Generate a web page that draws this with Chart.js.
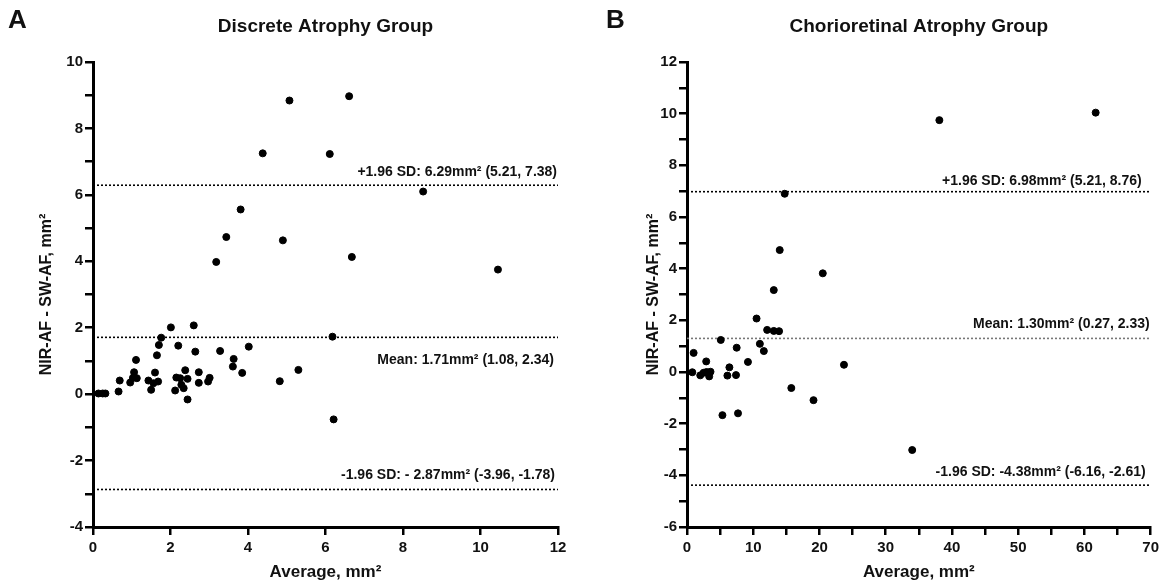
<!DOCTYPE html>
<html>
<head>
<meta charset="utf-8">
<script src="https://cdn.jsdelivr.net/npm/chart.js@4.4.0/dist/chart.umd.min.js"></script>
<style>
  body { margin: 0; background: #fff; }
  #wrap { position: relative; width: 1163px; height: 584px; }
  canvas { position: absolute; top: 0; }
</style>
</head>
<body>
<div id="wrap">
  <canvas id="chartA" width="580" height="584" style="left:0"></canvas>
  <canvas id="chartB" width="583" height="584" style="left:580px"></canvas>
</div>
<script>
"use strict";

// panel A - discrete atrophy group (average vs difference)
const avgA = [5.07, 6.61, 4.38, 6.11, 8.52, 3.81, 3.44, 4.90, 3.18, 6.68, 10.45,
  2.01, 2.60, 6.18, 1.76, 1.70, 2.20, 4.02, 3.28, 2.64, 1.65, 1.11, 3.63, 3.61,
  5.30, 1.06, 1.60, 2.38, 2.73, 3.85, 1.03, 1.13, 0.69, 0.96, 1.43, 1.56, 1.68,
  2.15, 2.25, 2.44, 2.73, 3.01, 2.97, 4.82, 2.28, 2.34, 1.50, 2.12, 0.66, 2.44,
  6.21, 0.14, 0.25, 0.32];
const diffA = [8.84, 8.97, 7.25, 7.23, 6.10, 5.56, 4.73, 4.63, 3.98, 4.13, 3.75,
  2.01, 2.07, 1.73, 1.70, 1.48, 1.46, 1.43, 1.30, 1.28, 1.17, 1.03, 1.06, 0.83,
  0.73, 0.66, 0.65, 0.72, 0.66, 0.64, 0.49, 0.48, 0.41, 0.35, 0.41, 0.33, 0.38,
  0.50, 0.48, 0.46, 0.34, 0.49, 0.38, 0.39, 0.28, 0.18, 0.13, 0.11, 0.08, -0.16,
  -0.76, 0.02, 0.02, 0.02];
const limitsA = [6.29, 1.71, -2.87];
const notesA = ["+1.96 SD: 6.29mm² (5.21, 7.38)", "Mean: 1.71mm² (1.08, 2.34)", "-1.96 SD: - 2.87mm² (-3.96, -1.78)"];

// panel B - chorioretinal atrophy group
const avgB = [38.1, 61.7, 14.75, 14.0, 20.5, 13.1, 10.5, 12.1, 13.1, 13.9, 5.1,
  11.0, 7.5, 11.6, 1.0, 2.9, 9.2, 23.7, 6.4, 0.8, 2.0, 2.5, 2.95, 3.35, 3.55,
  6.1, 7.4, 15.75, 19.1, 5.35, 7.7, 34.0];
const diffB = [9.75, 10.04, 6.90, 4.72, 3.82, 3.17, 2.07, 1.63, 1.59, 1.58, 1.24,
  1.09, 0.94, 0.81, 0.74, 0.41, 0.39, 0.28, 0.18, -0.01, -0.13, -0.03, 0.0, -0.17,
  0.01, -0.14, -0.12, -0.62, -1.09, -1.67, -1.60, -3.02];
const limitsB = [6.98, 1.30, -4.38];
const notesB = ["+1.96 SD: 6.98mm² (5.21, 8.76)", "Mean: 1.30mm² (0.27, 2.33)", "-1.96 SD: -4.38mm² (-6.16, -2.61)"];

const FONT = "'Liberation Sans', Arial, Helvetica, sans-serif";
Chart.defaults.font.family = FONT;
Chart.defaults.font.weight = "bold";
Chart.defaults.color = "#111";

// draws panel letter, group title and the labels over the limit lines
const panelText = {
  id: "panelText",
  afterDraw(chart, args, opts) {
    const ctx = chart.ctx;
    const area = chart.chartArea;
    const y = chart.scales.y;
    ctx.save();
    ctx.fillStyle = "#111";
    ctx.textBaseline = "middle";
    ctx.font = "bold 26px " + FONT;
    ctx.textAlign = "left";
    ctx.fillText(opts.letter, opts.letterX, 21);
    ctx.font = "bold 19px " + FONT;
    ctx.textAlign = "center";
    ctx.fillText(opts.title, (area.left + area.right) / 2, 27);
    ctx.font = "bold 14px " + FONT;
    ctx.textAlign = "right";
    for (let i = 0; i < opts.notes.length; i++) {
      const py = y.getPixelForValue(opts.limits[i]) + opts.noteDy[i];
      ctx.fillText(opts.notes[i], area.right + opts.noteDx[i], py);
    }
    ctx.restore();
  }
};

function makeChart(id, p) {
  const points = [];
  for (let i = 0; i < p.xs.length; i++) {
    points.push({ x: p.xs[i], y: p.ys[i] });
  }
  const datasets = [{
    type: "scatter",
    data: points,
    backgroundColor: "#000",
    borderColor: "#000",
    pointRadius: 3.5,
    pointHoverRadius: 3.5
  }];
  for (let i = 0; i < p.limits.length; i++) {
    datasets.push({
      type: "line",
      data: [{ x: p.xMin, y: p.limits[i] }, { x: p.xMax, y: p.limits[i] }],
      showLine: true,
      borderColor: p.lineColors[i],
      borderWidth: 1.6,
      borderDash: [2, 2],
      pointRadius: 0,
      fill: false
    });
  }

  const tickGrid = {
    drawOnChartArea: false,
    drawTicks: true,
    tickLength: 8,
    color: "#000",
    lineWidth: 2.5
  };

  return new Chart(document.getElementById(id), {
    type: "scatter",
    data: { datasets: datasets },
    options: {
      responsive: false,
      animation: false,
      events: [],
      layout: { padding: { left: 0, right: p.padRight, top: 62, bottom: 0 } },
      plugins: {
        legend: { display: false },
        tooltip: { enabled: false },
        panelText: {
          letter: p.letter,
          letterX: p.letterX,
          title: p.title,
          notes: p.notes,
          limits: p.limits,
          noteDy: p.noteDy,
          noteDx: p.noteDx
        }
      },
      scales: {
        x: {
          type: "linear",
          min: p.xMin,
          max: p.xMax,
          border: { display: true, color: "#000", width: 3 },
          grid: tickGrid,
          ticks: {
            stepSize: p.xStep,
            autoSkip: false,
            maxTicksLimit: 100,
            maxRotation: 0,
            padding: 4,
            font: { size: 15, weight: "bold" },
            color: "#111",
            callback: (v) => (v % p.xLabelEvery === 0 ? v : "")
          },
          title: {
            display: true,
            text: "Average, mm²",
            font: { size: 17, weight: "bold", lineHeight: 1 },
            color: "#111",
            padding: { top: 0, bottom: 3 }
          },
          afterFit: (scale) => { scale.height = 57; }
        },
        y: {
          type: "linear",
          min: p.yMin,
          max: p.yMax,
          border: { display: true, color: "#000", width: 3 },
          grid: tickGrid,
          ticks: {
            stepSize: 1,
            autoSkip: false,
            maxTicksLimit: 100,
            padding: 2,
            font: { size: 15, weight: "bold" },
            color: "#111",
            callback: (v) => (v % 2 === 0 ? v : "")
          },
          title: {
            display: true,
            text: "NIR-AF - SW-AF, mm²",
            font: { size: 16, weight: "bold", lineHeight: 1 },
            color: "#111",
            padding: { top: p.yTitleOffset - 8, bottom: 0 }
          },
          afterFit: (scale) => { scale.width = p.axisLeft; }
        }
      }
    },
    plugins: [panelText]
  });
}

makeChart("chartA", {
  xs: avgA, ys: diffA, limits: limitsA, notes: notesA,
  lineColors: ["#000", "#000", "#000"],
  noteDy: [-13, 23, -14], noteDx: [-1, -4, -3],
  xMin: 0, xMax: 12, xStep: 2, xLabelEvery: 2,
  yMin: -4, yMax: 10,
  axisLeft: 93, yTitleOffset: 47, padRight: 22,
  letter: "A", letterX: 8, title: "Discrete Atrophy Group"
});

makeChart("chartB", {
  xs: avgB, ys: diffB, limits: limitsB, notes: notesB,
  lineColors: ["#000", "#777", "#000"],
  noteDy: [-11, -14, -13], noteDx: [-9, -1, -5],
  xMin: 0, xMax: 70, xStep: 5, xLabelEvery: 10,
  yMin: -6, yMax: 12,
  axisLeft: 107, yTitleOffset: 74, padRight: 11,
  letter: "B", letterX: 26, title: "Chorioretinal Atrophy Group"
});
</script>
</body>
</html>
